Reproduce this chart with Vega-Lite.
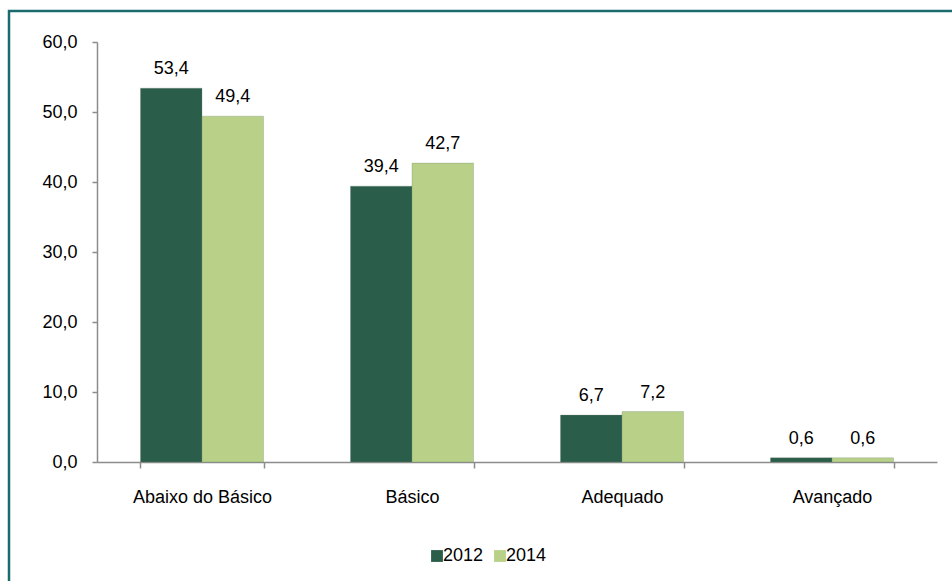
{
  "$schema": "https://vega.github.io/schema/vega-lite/v6.json",
  "width": 945,
  "height": 572,
  "autosize": {"type": "none"},
  "padding": {"left": 9, "top": 11, "right": 0, "bottom": 0},
  "background": "white",
  "config": {
    "locale": {"number": {"decimal": ",", "thousands": ".", "grouping": [3], "currency": ["R$ ", ""]}},
    "view": {"stroke": "#1b6b6e", "strokeWidth": 2.5},
    "font": "Liberation Sans",
    "text": {"font": "Liberation Sans"}
  },
  "data": {
    "values": [
      {"nivel": "Abaixo do Básico", "ano": "2012", "valor": 53.4},
      {"nivel": "Abaixo do Básico", "ano": "2014", "valor": 49.4},
      {"nivel": "Básico", "ano": "2012", "valor": 39.4},
      {"nivel": "Básico", "ano": "2014", "valor": 42.7},
      {"nivel": "Adequado", "ano": "2012", "valor": 6.7},
      {"nivel": "Adequado", "ano": "2014", "valor": 7.2},
      {"nivel": "Avançado", "ano": "2012", "valor": 0.6},
      {"nivel": "Avançado", "ano": "2014", "valor": 0.6}
    ]
  },
  "encoding": {
    "x": {
      "field": "nivel",
      "type": "nominal",
      "sort": ["Abaixo do Básico", "Básico", "Adequado", "Avançado"],
      "scale": {"range": [88, 928], "paddingInner": 0.414, "paddingOuter": 0.207},
      "axis": {
        "title": null,
        "labelAngle": 0,
        "offset": -121,
        "tickBand": "extent",
        "domainColor": "#8c8c8c",
        "domainWidth": 1.5,
        "tickColor": "#8c8c8c",
        "tickWidth": 1.5,
        "tickSize": 6,
        "labelFontSize": 18,
        "labelColor": "#000000",
        "labelFont": "Liberation Sans",
        "labelPadding": 20
      }
    },
    "xOffset": {"field": "ano", "type": "nominal", "scale": {"paddingInner": 0, "paddingOuter": 0}},
    "y": {
      "field": "valor",
      "type": "quantitative",
      "scale": {"domain": [0, 60], "range": [451, 31], "nice": false, "zero": true},
      "axis": {
        "title": null,
        "values": [0, 10, 20, 30, 40, 50, 60],
        "format": ".1f",
        "grid": false,
        "offset": -88,
        "domainColor": "#8c8c8c",
        "domainWidth": 1.5,
        "tickColor": "#8c8c8c",
        "tickWidth": 1.5,
        "tickSize": 5,
        "labelFontSize": 18,
        "labelColor": "#000000",
        "labelFont": "Liberation Sans",
        "labelPadding": 15
      }
    },
    "color": {
      "field": "ano",
      "type": "nominal",
      "scale": {"domain": ["2012", "2014"], "range": ["#2b5d4b", "#b8d088"]},
      "legend": {
        "title": null,
        "orient": "none",
        "direction": "horizontal",
        "legendX": 419,
        "legendY": 536,
        "symbolType": "square",
        "symbolSize": 140,
        "symbolStrokeWidth": 0,
        "symbolOpacity": 1,
        "labelFontSize": 18,
        "labelFont": "Liberation Sans",
        "labelColor": "#000000",
        "labelOffset": -3,
        "columnPadding": 7,
        "padding": 0
      }
    }
  },
  "layer": [
    {"mark": {"type": "bar", "stroke": "#6b8a6e", "strokeWidth": 0.5, "strokeOpacity": 0.6}},
    {
      "mark": {"type": "text", "baseline": "alphabetic", "dy": -14, "fontSize": 18, "color": "#000000", "font": "Liberation Sans"},
      "encoding": {
        "text": {"field": "valor", "type": "quantitative", "format": ".1f"},
        "color": {"value": "#000000"}
      }
    }
  ]
}
